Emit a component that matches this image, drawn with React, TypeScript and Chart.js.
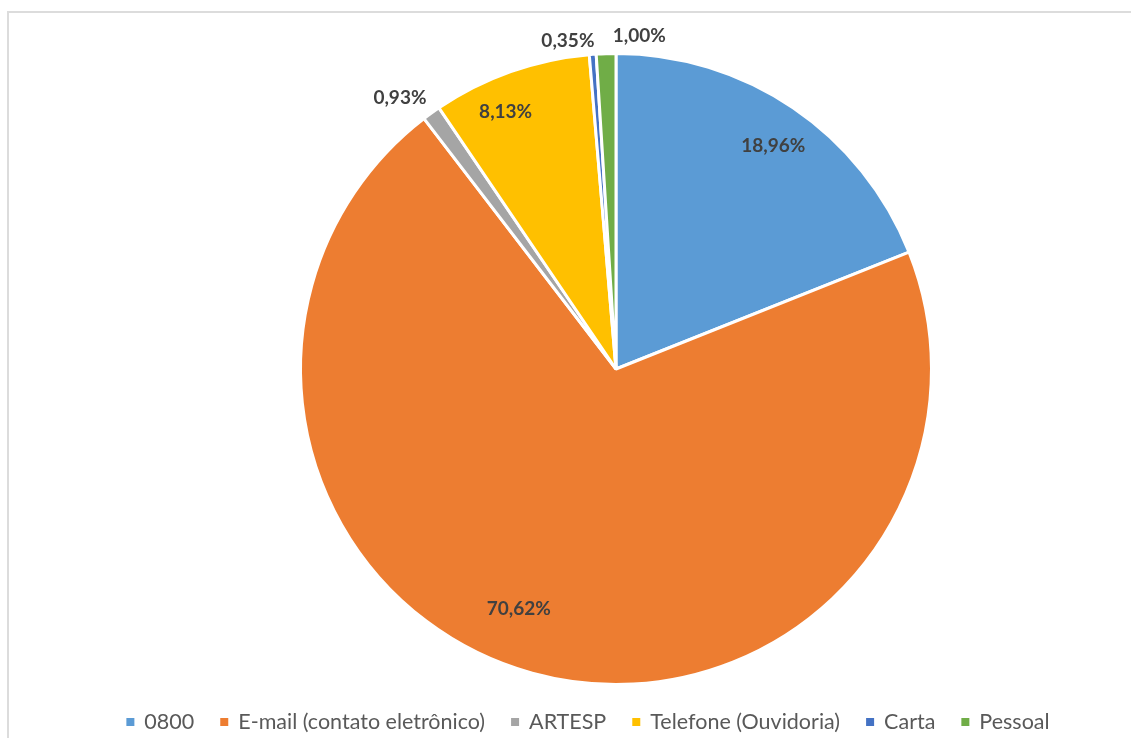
import React, { useEffect, useRef } from "react";
import { Chart, registerables } from "chart.js";

Chart.register(...registerables);

const categories = [
  "0800",
  "E-mail (contato eletrônico)",
  "ARTESP",
  "Telefone (Ouvidoria)",
  "Carta",
  "Pessoal",
];
const values = [18.96, 70.62, 0.93, 8.13, 0.35, 1.0];
const colors = ["#5B9BD5", "#ED7D31", "#A5A5A5", "#FFC000", "#4472C4", "#70AD47"];

// label placement relative to each slice: radius factor and angle nudge (degrees)
const labelRadius = [0.866, 0.82, 1.1, 0.888, 1.052, 1.06];
const labelAngleNudge = [1, 6.7, -2.7, -3.7, -4.1, 5.8];

const fmt = (v: number) => v.toFixed(2).replace(".", ",") + "%";

const sliceLabels = {
  id: "sliceLabels",
  afterDatasetsDraw(chart: any) {
    const ctx = chart.ctx;
    const meta = chart.getDatasetMeta(0);
    ctx.save();
    ctx.font = "bold 19px Lato";
    ctx.fillStyle = "#404040";
    ctx.textAlign = "center";
    ctx.textBaseline = "middle";
    meta.data.forEach((arc: any, i: number) => {
      const { x, y, startAngle, endAngle, outerRadius } = arc.getProps(
        ["x", "y", "startAngle", "endAngle", "outerRadius"],
        true
      );
      const mid = (startAngle + endAngle) / 2 + (labelAngleNudge[i] * Math.PI) / 180;
      const r = outerRadius * labelRadius[i];
      ctx.fillText(fmt(values[i]), x + Math.cos(mid) * r, y + Math.sin(mid) * r);
    });
    ctx.restore();
  },
};

const bottomLegend = {
  id: "bottomLegend",
  afterDraw(chart: any) {
    const ctx = chart.ctx;
    ctx.save();
    ctx.font = "21.5px Lato";
    ctx.textBaseline = "middle";
    const box = 8;
    const boxGap = 10;
    const itemGap = 26;
    const widths = categories.map((c) => ctx.measureText(c).width);
    const total =
      widths.reduce((a, w) => a + box + boxGap + w, 0) + itemGap * (categories.length - 1);
    const centerX = 588;
    const yMid = 722;
    let x = centerX - total / 2;
    categories.forEach((c, i) => {
      ctx.fillStyle = colors[i];
      ctx.fillRect(x, yMid - box / 2, box, box);
      x += box + boxGap;
      ctx.fillStyle = "#595959";
      ctx.textAlign = "left";
      ctx.fillText(c, x, yMid);
      x += widths[i] + itemGap;
    });
    ctx.restore();
  },
};

export default function App() {
  const ref = useRef<HTMLCanvasElement>(null);
  useEffect(() => {
    if (!ref.current) return;
    const chart = new Chart(ref.current, {
      type: "pie",
      data: {
        labels: categories,
        datasets: [
          {
            data: values,
            backgroundColor: colors,
            borderColor: "#ffffff",
            borderWidth: 3,
          },
        ],
      },
      options: {
        responsive: false,
        animation: false,
        layout: { padding: { top: 52, bottom: 52, left: 299, right: 198 } },
        plugins: {
          legend: { display: false },
          tooltip: { enabled: false },
        },
      },
      plugins: [sliceLabels, bottomLegend],
    });
    return () => chart.destroy();
  }, []);

  return (
    <div
      style={{
        position: "absolute",
        left: 0,
        top: 0,
        width: 1131,
        height: 738,
        overflow: "hidden",
        background: "#ffffff",
      }}
    >
      <div
        style={{
          position: "absolute",
          left: 7,
          top: 11,
          width: 1200,
          height: 800,
          border: "2px solid #dcdcdc",
        }}
      />
      <canvas
        ref={ref}
        width={1131}
        height={738}
        style={{ position: "absolute", left: 0, top: 0, width: 1131, height: 738 }}
      />
    </div>
  );
}
